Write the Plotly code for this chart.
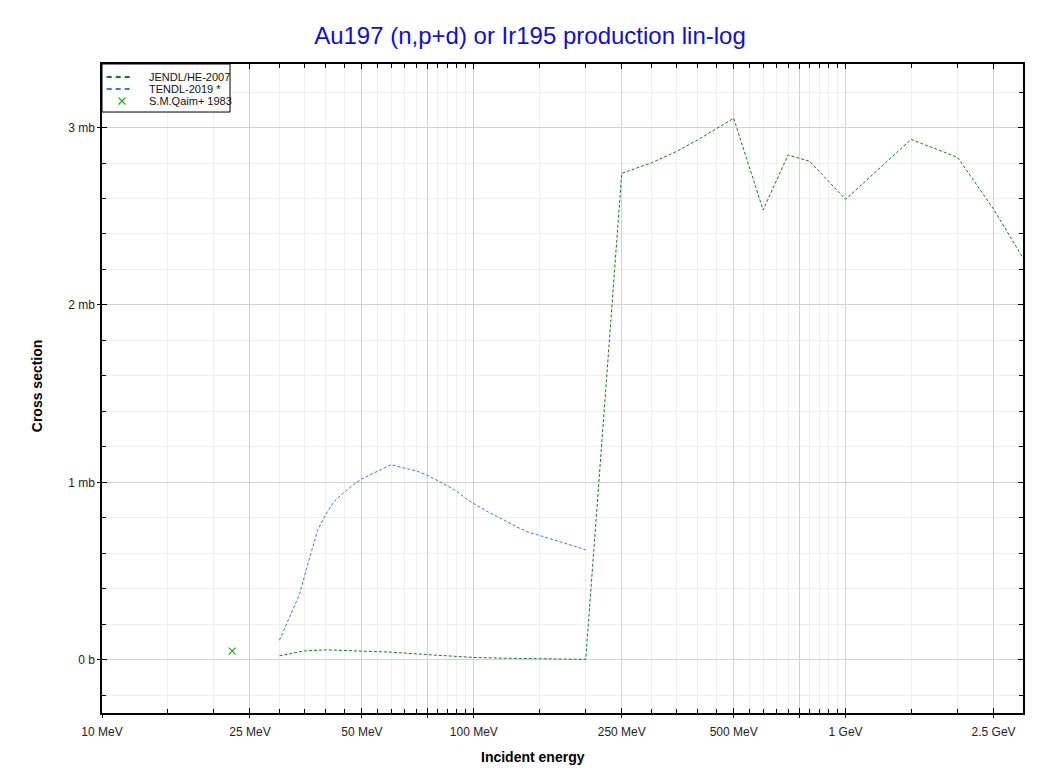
import plotly.graph_objects as go

# ---- data (energies in MeV, cross sections in mb) ----
jendl_energy = [30, 35, 40, 50, 60, 70, 80, 90, 100, 120, 150, 200,
                250, 300, 350, 400, 500, 600, 700, 800, 1000, 1500, 2000, 2500, 3000]
jendl_xs = [0.022, 0.050, 0.056, 0.051, 0.043, 0.033, 0.025, 0.018, 0.013, 0.009, 0.005, 0.002,
            2.742, 2.800, 2.864, 2.930, 3.052, 2.535, 2.845, 2.810, 2.595, 2.933, 2.832, 2.540, 2.265]

tendl_energy = [30, 32, 34, 36, 38, 40, 42, 44, 46, 48, 50, 55, 60, 65, 70, 75, 80, 85, 90, 95,
                100, 110, 120, 130, 140, 150, 160, 170, 180, 190, 200]
tendl_xs = [0.11, 0.24, 0.37, 0.56, 0.73, 0.82, 0.89, 0.93, 0.965, 0.995, 1.02, 1.06, 1.10, 1.08,
            1.065, 1.04, 1.01, 0.98, 0.95, 0.91, 0.88, 0.83, 0.79, 0.75, 0.72, 0.70, 0.68, 0.665,
            0.65, 0.635, 0.62]

qaim_energy = [22.4]
qaim_xs = [0.049]

series_names = ["JENDL/HE-2007", "TENDL-2019 *", "S.M.Qaim+ 1983"]
series_colors = ["#117a26", "#4670ea", "#1fae1f"]

x_major = [10, 25, 50, 75, 100, 250, 500, 750, 1000, 2500]
x_major_text = ["10 MeV", "25 MeV", "50 MeV", "", "100 MeV", "250 MeV", "500 MeV", "", "1 GeV", "2.5 GeV"]
x_minor = [15, 20, 30, 35, 40, 45, 55, 60, 65, 70, 80, 85, 90, 95,
           150, 200, 300, 350, 400, 450, 550, 600, 650, 700, 800, 850, 900, 950, 1500, 2000]
y_major = [0, 1, 2, 3]
y_major_text = ["0 b", "1 mb", "2 mb", "3 mb"]
y_minor = [-0.2, 0.2, 0.4, 0.6, 0.8, 1.2, 1.4, 1.6, 1.8, 2.2, 2.4, 2.6, 2.8, 3.2]

X_RANGE = [1, 3.4771]
Y_RANGE = [-0.3, 3.358]

FONT = "Liberation Sans, Arial, sans-serif"

fig = go.Figure()
fig.add_trace(go.Scatter(x=jendl_energy, y=jendl_xs, mode="lines", name=series_names[0],
                         showlegend=False,
                         line=dict(color=series_colors[0], width=1, dash="3px,2px")))
fig.add_trace(go.Scatter(x=tendl_energy, y=tendl_xs, mode="lines", name=series_names[1],
                         showlegend=False,
                         line=dict(color=series_colors[1], width=1, dash="3px,2px")))
fig.add_trace(go.Scatter(x=qaim_energy, y=qaim_xs, mode="markers", name=series_names[2],
                         showlegend=False,
                         marker=dict(symbol="x-thin-open", size=7, color=series_colors[2],
                                     line=dict(color=series_colors[2], width=1.2))))
# empty trace to carry the overlay axes (outer tick stubs)
fig.add_trace(go.Scatter(x=[], y=[], xaxis="x2", yaxis="y2", showlegend=False, hoverinfo="skip"))

axis_common = dict(
    showline=True, linecolor="black", linewidth=1.5, mirror="ticks",
    ticks="inside", ticklen=5, tickcolor="black", tickwidth=1,
    showgrid=True, gridcolor="#d2d2d2", gridwidth=1,
    zeroline=False,
    tickfont=dict(family=FONT, size=12, color="#222"),
)

fig.update_layout(
    xaxis=dict(
        type="log", range=X_RANGE,
        tickmode="array", tickvals=x_major, ticktext=x_major_text,
        ticklabelstandoff=7,
        minor=dict(tickmode="array", tickvals=x_minor, ticks="inside", ticklen=4,
                   tickcolor="black", showgrid=True, gridcolor="#efefef", gridwidth=1),
        **axis_common,
    ),
    yaxis=dict(
        range=Y_RANGE,
        tickmode="array", tickvals=y_major, ticktext=y_major_text,
        ticklabelstandoff=3,
        minor=dict(tickmode="array", tickvals=y_minor, ticks="inside", ticklen=4,
                   tickcolor="black", showgrid=True, gridcolor="#efefef", gridwidth=1),
        **axis_common,
    ),
    xaxis2=dict(type="log", range=X_RANGE, overlaying="x", anchor="y2", side="bottom",
                tickmode="array", tickvals=x_major, ticks="outside", ticklen=4,
                tickcolor="black", showticklabels=False, showgrid=False, showline=False,
                zeroline=False),
    yaxis2=dict(range=Y_RANGE, overlaying="y", anchor="x2", side="left",
                tickmode="array", tickvals=y_major, ticks="outside", ticklen=4,
                tickcolor="black", showticklabels=False, showgrid=False, showline=False,
                zeroline=False),
)

# ---- legend box drawn in paper coordinates ----
legend_rows_y = [0.980, 0.9615, 0.943]
shapes = [dict(type="rect", xref="paper", yref="paper", x0=0, x1=0.139, y0=0.926, y1=1.0,
               line=dict(color="black", width=1), fillcolor="white", layer="above")]
annotations = []
for i, (name, col) in enumerate(zip(series_names, series_colors)):
    yy = legend_rows_y[i]
    if i < 2:
        shapes.append(dict(type="line", xref="paper", yref="paper", x0=0.0051, x1=0.034,
                           y0=yy, y1=yy, layer="above",
                           line=dict(color=col, width=2, dash="5px,4px")))
    else:
        dx, dy = 0.0038, 0.0054
        cx = 0.0217
        shapes.append(dict(type="line", xref="paper", yref="paper", x0=cx - dx, x1=cx + dx,
                           y0=yy - dy, y1=yy + dy, layer="above", line=dict(color=col, width=1.2)))
        shapes.append(dict(type="line", xref="paper", yref="paper", x0=cx - dx, x1=cx + dx,
                           y0=yy + dy, y1=yy - dy, layer="above", line=dict(color=col, width=1.2)))
    annotations.append(dict(text=name, xref="paper", yref="paper", x=0.0492, y=yy,
                            xanchor="left", yanchor="middle", showarrow=False,
                            font=dict(family=FONT, size=11, color="#111")))

annotations += [
    dict(text="<b>Incident energy</b>", xref="paper", yref="paper", x=0.468, y=-0.0678,
         xanchor="center", yanchor="middle", showarrow=False,
         font=dict(family=FONT, size=14, color="black")),
    dict(text="<b>Cross section</b>", xref="paper", yref="paper", x=-0.0706, y=0.505,
         xanchor="center", yanchor="middle", showarrow=False, textangle=-90,
         font=dict(family=FONT, size=14, color="black")),
]

fig.update_layout(
    width=1041, height=766,
    margin=dict(l=94, r=26, t=56, b=61),
    paper_bgcolor="white", plot_bgcolor="white",
    title=dict(text="Au197 (n,p+d) or Ir195 production lin-log", x=0.5014, xanchor="center",
               y=0.9634, yanchor="middle",
               font=dict(family=FONT, size=24, color="#1010cc")),
    showlegend=False,
    shapes=shapes,
    annotations=annotations,
)

fig.write_html("out.html")
